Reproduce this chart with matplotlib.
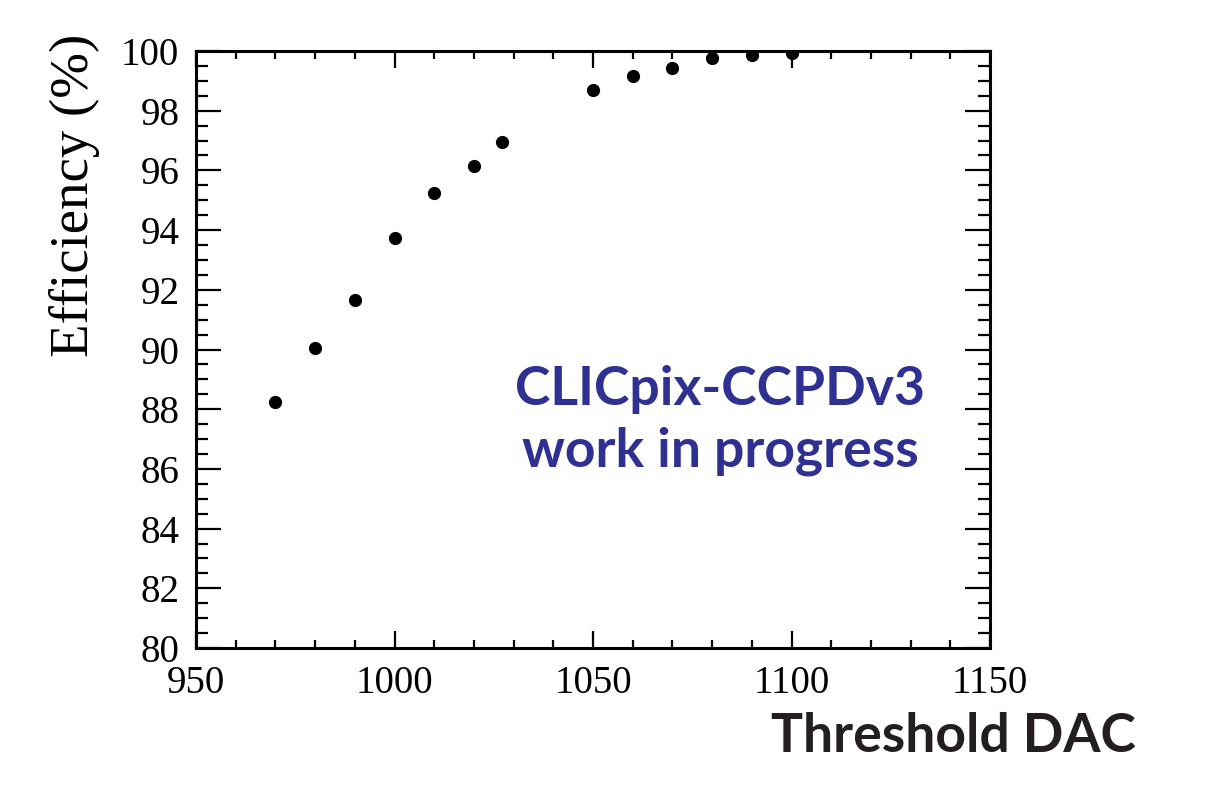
import numpy as np
import matplotlib.pyplot as plt
from matplotlib.ticker import MultipleLocator

# threshold scan
threshold = [970, 980, 990, 1000, 1010, 1020, 1027, 1050, 1060, 1070, 1080, 1090, 1100]
efficiency = [88.25, 90.05, 91.66, 93.73, 95.25, 96.14, 96.96,
              98.69, 99.16, 99.42, 99.76, 99.87, 99.93]

fig = plt.figure(figsize=(12.19, 7.85), dpi=100)
ax = fig.add_axes([196/1219, 1-648/785, (990-196)/1219, (648-51)/785])

ax.plot(threshold, efficiency, 'o', color='black', markersize=8.5, linestyle='none')

ax.set_xlim(950, 1150)
ax.set_ylim(80, 100)
ax.xaxis.set_major_locator(MultipleLocator(50))
ax.xaxis.set_minor_locator(MultipleLocator(10))
ax.yaxis.set_major_locator(MultipleLocator(2))
ax.yaxis.set_minor_locator(MultipleLocator(0.5))

for s in ax.spines.values():
	s.set_linewidth(2.2)
ax.tick_params(which='both', direction='in', top=True, right=True, width=1.6)
ax.tick_params(axis='x', which='major', length=12, pad=12)
ax.tick_params(axis='x', which='minor', length=6)
ax.tick_params(axis='y', which='major', length=18, pad=12)
ax.tick_params(axis='y', which='minor', length=8.5)
for lab in ax.get_xticklabels() + ax.get_yticklabels():
	lab.set_fontfamily('Liberation Serif')
	lab.set_fontsize(28)

fig.text(75/1219, 1-195/785, 'Efficiency (%)', rotation=90, ha='center', va='center',
	family='Liberation Serif', fontsize=39.5)
fig.text(1136/1219, 1-752/785, 'Threshold DAC', ha='right', va='baseline',
	family='Lato', fontweight='bold', fontsize=38.5, color='#231f20')
fig.text(720/1219, 1-405/785, 'CLICpix-CCPDv3', ha='center', va='baseline',
	family='Lato', fontweight='bold', fontsize=38.5, color='#2e3192')
fig.text(720/1219, 1-467/785, 'work in progress', ha='center', va='baseline',
	family='Lato', fontweight='bold', fontsize=38.5, color='#2e3192')

fig.savefig('out.png', dpi=100)
